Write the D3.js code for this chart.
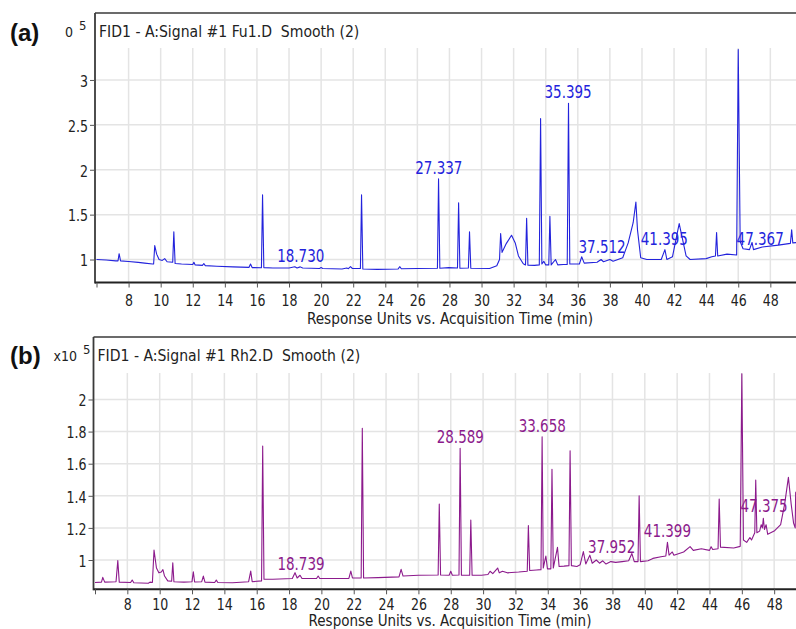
<!DOCTYPE html>
<html><head><meta charset="utf-8">
<script src="https://cdn.jsdelivr.net/npm/d3@7"></script>
<style>
html,body{margin:0;padding:0;background:#fff;}
svg{display:block;}
text{font-family:"DejaVu Sans Condensed","DejaVu Sans",sans-serif;font-stretch:condensed;white-space:pre;}
</style></head><body>
<svg id="chart" width="796" height="629"></svg>
<script>
// ---------------- data ----------------
const timeTicks = [6, 8, 10, 12, 14, 16, 18, 20, 22, 24, 26, 28, 30, 32, 34, 36, 38, 40, 42, 44, 46, 48];
const fuYTicks = [1, 1.5, 2, 2.5, 3];
const rhYTicks = [1, 1.2, 1.4, 1.6, 1.8, 2];
const panelTags = ["(a)", "(b)"];
const panelTitles = ["FID1 - A:Signal #1 Fu1.D  Smooth (2)", "FID1 - A:Signal #1 Rh2.D  Smooth (2)"];
const yMultipliers = ["0", "x10"];
const yExponent = "5";
const xAxisTitle = "Response Units vs. Acquisition Time (min)";

// [time (min), response (x10^5)]
const fuTrace = [
 [6.0,1.000],[6.6,0.995],[7.2,0.985],[7.34,0.985],[7.41,1.065],[7.5,0.985],[8.0,0.978],[8.6,0.968],
 [9.0,0.960],[9.5,0.950],[9.56,0.950],[9.63,1.155],[9.75,1.060],[9.9,1.000],[10.1,0.990],[10.25,1.010],
 [10.4,0.975],[10.75,0.970],[10.82,1.310],[10.9,0.955],[11.3,0.950],[12.0,0.945],[12.07,0.970],[12.15,0.940],
 [12.6,0.935],[12.69,0.955],[12.78,0.932],[13.5,0.925],[14.5,0.918],[15.5,0.912],[15.6,0.950],[15.7,0.910],
 [16.28,0.908],[16.35,1.720],[16.43,0.910],[17.0,0.905],[18.0,0.905],[18.36,0.920],[18.5,0.905],[18.7,0.918],
 [18.85,0.905],[19.9,0.900],[20.0,0.910],[20.1,0.900],[21.3,0.895],[21.6,0.905],[21.7,0.898],[21.83,0.920],
 [21.95,0.900],[22.45,0.900],[22.52,1.720],[22.6,0.895],[23.5,0.890],[24.8,0.895],[24.9,0.920],[25.0,0.897],
 [26.0,0.900],[27.25,0.903],[27.32,1.900],[27.4,0.903],[27.96,0.910],[28.5,0.905],[28.57,1.633],[28.65,0.903],
 [29.18,0.905],[29.25,1.310],[29.33,0.903],[30.5,0.900],[30.95,0.930],[31.12,1.000],[31.19,1.290],[31.28,1.080],
 [31.55,1.180],[31.87,1.270],[32.1,1.185],[32.3,1.040],[32.6,0.952],[32.74,0.940],[32.81,1.460],[32.89,0.937],
 [33.3,0.935],[33.6,0.940],[33.68,2.570],[33.76,0.950],[33.88,0.980],[34.0,0.940],[34.19,0.940],[34.26,1.480],
 [34.34,0.940],[34.61,1.000],[34.75,0.940],[35.1,0.945],[35.34,0.945],[35.42,2.740],[35.5,0.950],[36.1,0.950],
 [36.24,1.030],[36.4,0.960],[37.2,0.970],[37.45,1.000],[37.6,0.975],[38.0,1.000],[38.2,0.980],[38.8,1.020],
 [39.14,1.185],[39.45,1.410],[39.62,1.640],[39.72,1.330],[39.92,1.020],[40.3,1.000],[41.2,1.000],[41.43,1.110],
 [41.55,1.000],[41.9,1.030],[42.16,1.260],[42.32,1.400],[42.5,1.250],[42.75,1.040],[43.0,1.000],[44.0,1.010],
 [44.35,1.030],[44.58,1.040],[44.65,1.300],[44.72,1.040],[45.3,1.060],[45.9,1.050],[46.0,3.340],[46.12,1.200],
 [46.3,1.120],[46.7,1.110],[46.86,1.190],[46.95,1.110],[47.5,1.140],[48.5,1.160],[49.25,1.180],[49.33,1.330],
 [49.4,1.185],[49.7,1.190]
];
const rhTrace = [
 [6.0,0.860],[6.4,0.862],[6.48,0.892],[6.6,0.862],[7.3,0.865],[7.41,0.996],[7.5,0.862],[8.2,0.860],
 [8.3,0.875],[8.4,0.858],[9.3,0.855],[9.4,0.862],[9.55,0.860],[9.65,1.062],[9.8,0.950],[9.95,0.920],
 [10.1,0.925],[10.2,0.940],[10.3,0.900],[10.5,0.870],[10.74,0.868],[10.81,0.983],[10.88,0.865],[11.5,0.862],
 [12.0,0.865],[12.08,0.927],[12.16,0.863],[12.6,0.865],[12.7,0.900],[12.8,0.862],[13.4,0.860],[13.5,0.875],
 [13.6,0.860],[14.5,0.858],[15.5,0.865],[15.63,0.931],[15.72,0.865],[16.3,0.870],[16.37,1.710],[16.45,0.880],
 [17.0,0.880],[18.2,0.885],[18.37,0.921],[18.5,0.888],[18.68,0.905],[18.8,0.885],[19.7,0.885],[19.8,0.900],
 [19.9,0.885],[21.0,0.885],[21.7,0.885],[21.82,0.931],[21.92,0.888],[22.46,0.888],[22.53,1.820],[22.61,0.888],
 [23.5,0.890],[24.8,0.895],[24.93,0.942],[25.05,0.900],[26.0,0.905],[27.22,0.907],[27.29,1.349],[27.37,0.907],
 [27.9,0.905],[28.0,0.930],[28.1,0.905],[28.51,0.907],[28.58,1.696],[28.66,0.905],[29.17,0.905],[29.24,1.249],
 [29.32,0.905],[29.9,0.905],[30.3,0.910],[30.43,0.930],[30.6,0.915],[30.9,0.950],[31.0,0.920],[31.2,0.930],
 [31.5,0.920],[32.2,0.925],[32.73,0.930],[32.8,1.214],[32.88,0.935],[33.3,0.938],[33.58,0.940],[33.65,1.768],
 [33.72,0.950],[33.88,1.025],[33.98,0.945],[34.19,0.945],[34.26,1.565],[34.34,0.950],[34.6,1.079],[34.7,0.960],
 [35.0,0.962],[35.31,0.965],[35.38,1.681],[35.46,0.965],[35.8,0.960],[36.0,0.970],[36.2,1.052],[36.35,0.975],
 [36.6,1.030],[36.75,0.980],[37.0,1.000],[37.2,0.980],[37.4,0.995],[37.6,0.975],[37.9,0.990],[38.2,0.985],
 [38.6,0.990],[39.0,0.995],[39.2,1.040],[39.35,0.990],[39.58,0.990],[39.65,1.400],[39.73,0.990],[40.2,0.995],
 [40.5,1.010],[41.0,1.020],[41.3,1.025],[41.4,1.110],[41.5,1.030],[41.7,1.050],[41.8,1.030],[42.4,1.050],
 [42.8,1.083],[43.0,1.060],[43.5,1.070],[44.0,1.060],[44.1,1.083],[44.2,1.065],[44.53,1.070],[44.6,1.380],
 [44.68,1.080],[45.5,1.075],[45.9,1.085],[46.0,2.160],[46.1,1.125],[46.3,1.110],[46.5,1.140],[46.6,1.125],
 [46.8,1.170],[46.86,1.498],[46.93,1.170],[47.1,1.180],[47.2,1.220],[47.27,1.200],[47.33,1.260],[47.4,1.190],
 [47.5,1.220],[47.6,1.160],[48.0,1.180],[48.4,1.220],[48.65,1.350],[48.88,1.515],[49.05,1.350],[49.2,1.230],
 [49.3,1.200],[49.33,1.420],[49.4,1.430]
];
const fuPeakTimes = [18.730, 27.337, 35.395, 37.512, 41.395, 47.367];
const fuPeakLabelLevels = [0.967, 1.956, 2.800, 1.078, 1.167, 1.167];
const rhPeakTimes = [18.739, 28.589, 33.658, 37.952, 41.399, 47.375];
const rhPeakLabelLevels = [0.938, 1.727, 1.797, 1.044, 1.146, 1.296];

// ---------------- layout ----------------
const panels = [
  {tag: panelTags[0], title: panelTitles[0], mult: yMultipliers[0], trace: fuTrace, yTicks: fuYTicks,
   peaks: fuPeakTimes, levels: fuPeakLabelLevels, color: "#2323dc",
   frameTop: 13, gridTop: 48, axisY: 282.5, frameLeft: 95, xRange: [96.5, 796], xDomain: [6, 49.6],
   yDomain: [0.744, 3.356], tagY: 41, multX: 73, tickLabelDy: 23.5, titleDy: 41, titleSize: 15.2},
  {tag: panelTags[1], title: panelTitles[1], mult: yMultipliers[1], trace: rhTrace, yTicks: rhYTicks,
   peaks: rhPeakTimes, levels: rhPeakLabelLevels, color: "#8c1a8c",
   frameTop: 337, gridTop: 373, axisY: 589.3, frameLeft: 93.5, xRange: [95, 796], xDomain: [6, 49.35],
   yDomain: [0.8175, 2.165], tagY: 364, multX: 77, tickLabelDy: 20.5, titleDy: 37, titleSize: 15}
];

const svg = d3.select("#chart");
const W = 796;
const gridColor = "#e4e4e4";
const axisColor = "#3a3a3a";

// vertical stretch of text around its own baseline point
function stretch(sel, k) {
  sel.each(function () {
    const t = d3.select(this);
    const x = +t.attr("x") || 0, y = +t.attr("y") || 0;
    t.attr("x", 0).attr("y", 0).attr("transform", `translate(${x},${y}) scale(1,${k})`);
  });
}

panels.forEach((p, i) => {
  const x = d3.scaleLinear().domain(p.xDomain).range(p.xRange);
  const y = d3.scaleLinear().domain(p.yDomain).range([p.axisY, p.gridTop]);
  const g = svg.append("g");

  // grid
  g.selectAll(".vg").data(timeTicks.filter(t => t > 6)).enter().append("line")
    .attr("x1", d => x(d)).attr("x2", d => x(d))
    .attr("y1", p.gridTop).attr("y2", p.axisY)
    .attr("stroke", gridColor).attr("stroke-width", 1.5);
  g.selectAll(".hg").data(p.yTicks).enter().append("line")
    .attr("x1", p.frameLeft).attr("x2", W)
    .attr("y1", d => y(d)).attr("y2", d => y(d))
    .attr("stroke", gridColor).attr("stroke-width", 1.5);

  // trace
  const clipId = "clip" + i;
  svg.append("clipPath").attr("id", clipId).append("rect")
    .attr("x", p.frameLeft + 0.5).attr("y", p.gridTop - 1)
    .attr("width", W - p.frameLeft).attr("height", p.axisY - p.gridTop);
  g.append("path").datum(p.trace)
    .attr("clip-path", `url(#${clipId})`)
    .attr("fill", "none").attr("stroke", p.color).attr("stroke-width", 1.1)
    .attr("stroke-linejoin", "round")
    .attr("d", d3.line().x(d => x(d[0])).y(d => y(d[1])));

  // frame
  g.append("line").attr("x1", p.frameLeft).attr("x2", W).attr("y1", p.frameTop).attr("y2", p.frameTop)
    .attr("stroke", axisColor).attr("stroke-width", 1.3);
  g.append("line").attr("x1", p.frameLeft).attr("x2", p.frameLeft).attr("y1", p.frameTop).attr("y2", p.axisY + 1)
    .attr("stroke", axisColor).attr("stroke-width", 1.8);
  g.append("line").attr("x1", p.frameLeft).attr("x2", W).attr("y1", p.axisY).attr("y2", p.axisY)
    .attr("stroke", "#222").attr("stroke-width", 2);

  // axes
  const yAxis = g.append("g").attr("transform", `translate(${p.frameLeft},0)`)
    .call(d3.axisLeft(y).tickValues(p.yTicks).tickFormat(d3.format("~g")).tickSize(5).tickSizeOuter(0).tickPadding(2));
  yAxis.select(".domain").remove();
  yAxis.selectAll("line").attr("stroke", "#555");
  yAxis.selectAll("text").attr("font-family", null).style("font-size", "14px").attr("fill", "#222")
    .attr("dy", "0.4em");
  stretch(yAxis.selectAll("text"), 1.12);

  const xAxis = g.append("g").attr("transform", `translate(0,${p.axisY})`)
    .call(d3.axisBottom(x).tickValues(timeTicks).tickFormat(d => d === 6 ? "" : d).tickSize(5).tickSizeOuter(0));
  xAxis.select(".domain").remove();
  xAxis.selectAll("line").attr("stroke", "#555");
  xAxis.selectAll("text").attr("font-family", null).style("font-size", "14px").attr("fill", "#222")
    .attr("y", p.tickLabelDy).attr("dy", 0);
  stretch(xAxis.selectAll("text"), 1.1);

  // axis title
  stretch(g.append("text").attr("x", 450).attr("y", p.axisY + p.titleDy).attr("text-anchor", "middle")
    .style("font-size", p.titleSize + "px").attr("fill", "#222").text(xAxisTitle), 1.08);

  // panel title
  g.append("text").attr("x", p.frameLeft + 4).attr("y", p.frameTop + 24)
    .style("font-size", "15.6px").attr("fill", "#222").text(p.title);

  // y multiplier
  g.append("text").attr("x", p.multX).attr("y", p.frameTop + 24).attr("text-anchor", "end")
    .style("font-size", "14px").attr("fill", "#222").text(p.mult);
  g.append("text").attr("x", p.multX + 6).attr("y", p.frameTop + 17)
    .style("font-size", "13px").attr("fill", "#222").text(yExponent);

  // tag
  g.append("text").attr("x", 10).attr("y", p.tagY)
    .style("font-family", "'Liberation Sans', Arial, sans-serif").style("font-stretch", "normal")
    .style("font-weight", "bold").style("font-size", "24px").attr("fill", "#111").text(p.tag);

  // peak labels
  stretch(g.selectAll(".pk").data(p.peaks).enter().append("text")
    .attr("x", d => x(d)).attr("y", (d, k) => y(p.levels[k]))
    .attr("text-anchor", "middle").style("font-size", "15px").attr("fill", p.color)
    .text(d => d3.format(".3f")(d)), 1.2);
});
</script>
</body></html>
